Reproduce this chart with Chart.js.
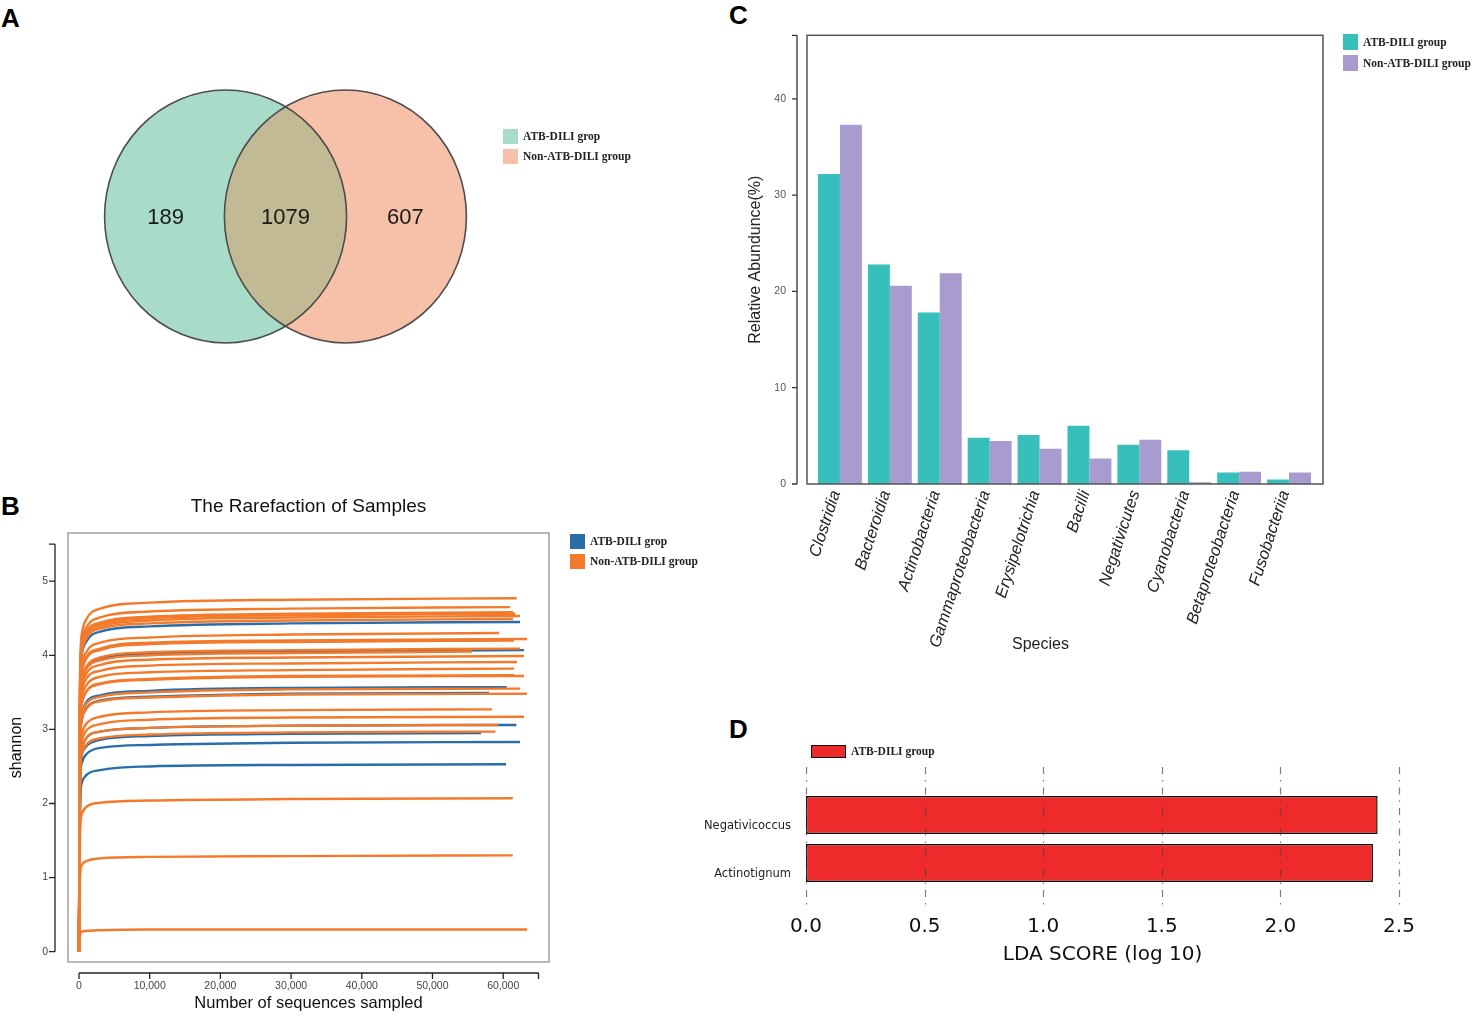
<!DOCTYPE html>
<html><head><meta charset="utf-8">
<script src="https://cdn.jsdelivr.net/npm/chart.js@4.4.1/dist/chart.umd.min.js"></script>
<style>
html,body{margin:0;padding:0;background:#fff;width:1476px;height:1017px;overflow:hidden;font-family:'Liberation Sans',Arial,sans-serif}
.pane{position:absolute}
.letter{position:absolute;font:bold 26px 'Liberation Sans',Arial,sans-serif;color:#000;line-height:26px}
.lg{position:absolute;font:bold 11.5px 'Liberation Serif','Times New Roman',serif;color:#222;white-space:nowrap;display:flex;align-items:center;height:16px}
.sw{display:inline-block;width:15px;height:15px;margin-right:5px;box-sizing:border-box}
.txt{position:absolute;white-space:nowrap;color:#222}
</style></head><body>

<div class="letter" style="left:1px;top:5px">A</div>
<div class="letter" style="left:1px;top:493px">B</div>
<div class="letter" style="left:729px;top:2px">C</div>
<div class="letter" style="left:729px;top:716px">D</div>

<div class="pane" style="left:0;top:0;width:700px;height:460px"><canvas id="venn"></canvas></div>
<div class="pane" style="left:0;top:470px;width:710px;height:547px"><canvas id="rare"></canvas></div>
<div class="pane" style="left:720px;top:0;width:756px;height:680px"><canvas id="abund"></canvas></div>
<div class="pane" style="left:690px;top:700px;width:786px;height:317px"><canvas id="lda"></canvas></div>

<div class="lg" style="left:503px;top:128px"><span class="sw" style="background:#a9dcc8"></span>ATB-DILI grop</div>
<div class="lg" style="left:503px;top:148px"><span class="sw" style="background:#f7c1a9"></span>Non-ATB-DILI group</div>

<div class="lg" style="left:570px;top:533px"><span class="sw" style="background:#2a6ea9"></span>ATB-DILI grop</div>
<div class="lg" style="left:570px;top:553px"><span class="sw" style="background:#f47a2b"></span>Non-ATB-DILI group</div>

<div class="lg" style="left:1343px;top:34px"><span class="sw" style="background:#36bfbb;height:16px"></span>ATB-DILI group</div>
<div class="lg" style="left:1343px;top:55px"><span class="sw" style="background:#a79bd0;height:16px"></span>Non-ATB-DILI group</div>

<div class="lg" style="left:811px;top:743px"><span class="sw" style="background:#ee2a2a;width:35px;height:13px;border:1.5px solid #111"></span>ATB-DILI group</div>

<div class="txt" style="left:1012px;top:635px;font-size:16px">Species</div>

<script>
// ---------- Panel A: Venn ----------
const vennLabels = ['ATB-DILI grop', 'Non-ATB-DILI group'];
const vennCenterX = [-0.495, 0.495];
const vennRadius = [1, 1];
const vennCounts = [189, 1079, 607];
const vennCountX = [-0.99, 0, 0.99];

// ---------- Panel B: rarefaction ----------
const rareDepths = [0, 150, 400, 1000, 3000, 10000, 30000]; // last point = rareEnd
const rareGroup = ['N','N','N','N','N','N','A','N','N','A','N','N','A','N','N','N','N','N','N','A','N','A','N','N','N','N','A','N','A','A','A','N','N','N'];
const rareEnd = [61900,60960,61400,61700,62380,61390,62380,59400,63370,61000,61530,62380,62940,55590,62940,61950,61530,61530,62940,60490,62380,57990,63370,58420,62940,59240,61870,58900,56870,62370,60400,61360,61360,63380];
const rareValues = [
  [0,3.72,4.29,4.48,4.63,4.71,4.75,4.77],
  [0,3.63,4.19,4.37,4.51,4.59,4.63,4.65],
  [0,3.57,4.12,4.31,4.44,4.52,4.56,4.58],
  [0,3.56,4.10,4.29,4.42,4.50,4.54,4.56],
  [0,3.53,4.08,4.26,4.39,4.47,4.51,4.53],
  [0,3.50,4.04,4.22,4.36,4.43,4.47,4.49],
  [0,3.47,4.01,4.18,4.32,4.39,4.43,4.45],
  [0,3.35,3.87,4.04,4.17,4.24,4.28,4.30],
  [0,3.29,3.80,3.97,4.09,4.17,4.20,4.22],
  [0,3.28,3.79,3.96,4.08,4.16,4.19,4.21],
  [0,3.28,3.78,3.95,4.07,4.15,4.18,4.20],
  [0,3.19,3.68,3.84,3.97,4.04,4.07,4.09],
  [0,3.17,3.66,3.83,3.95,4.02,4.05,4.07],
  [0,3.16,3.65,3.81,3.93,4.00,4.03,4.05],
  [0,3.11,3.59,3.75,3.87,3.94,3.97,3.99],
  [0,3.05,3.52,3.68,3.79,3.86,3.89,3.91],
  [0,2.98,3.44,3.59,3.71,3.77,3.80,3.82],
  [0,2.91,3.36,3.51,3.62,3.68,3.72,3.73],
  [0,2.90,3.35,3.50,3.61,3.67,3.71,3.72],
  [0,2.78,3.21,3.36,3.46,3.52,3.56,3.57],
  [0,2.77,3.20,3.34,3.44,3.50,3.54,3.55],
  [0,2.72,3.14,3.28,3.39,3.44,3.48,3.49],
  [0,2.71,3.13,3.27,3.38,3.43,3.47,3.48],
  [0,2.55,2.94,3.07,3.17,3.23,3.26,3.27],
  [0,2.47,2.85,2.98,3.07,3.13,3.16,3.17],
  [0,2.39,2.75,2.88,2.97,3.02,3.05,3.06],
  [0,2.39,2.75,2.88,2.97,3.02,3.05,3.06],
  [0,2.32,2.67,2.79,2.88,2.93,2.96,2.97],
  [0,2.30,2.66,2.77,2.86,2.91,2.94,2.95],
  [0,2.21,2.55,2.66,2.75,2.79,2.82,2.83],
  [0,1.97,2.28,2.38,2.45,2.50,2.52,2.53],
  [0,1.61,1.86,1.95,2.01,2.04,2.06,2.07],
  [0,1.01,1.17,1.22,1.26,1.28,1.29,1.30],
  [0,0.23,0.27,0.28,0.29,0.30,0.30,0.30]
];
const rareXTicks = [0, 10000, 20000, 30000, 40000, 50000, 60000];
const rareXAxisEnd = 65000;
const rareYTicks = [0, 1, 2, 3, 4, 5];
const rareYAxisEnd = 5.5;

// ---------- Panel C: relative abundance ----------
const speciesLabels = ['Clostridia','Bacteroidia','Actinobacteria','Gammaproteobacteria','Erysipelotrichia','Bacilli','Negativicutes','Cyanobacteria','Betaproteobacteria','Fusobacteriia'];
const atbAbundance = [32.2, 22.8, 17.8, 4.8, 5.1, 6.05, 4.08, 3.5, 1.2, 0.48];
const nonAtbAbundance = [37.3, 20.6, 21.9, 4.46, 3.66, 2.66, 4.6, 0.17, 1.28, 1.2];
const abundTicks = [0, 10, 20, 30, 40];
const abundMax = 46.6;

// ---------- Panel D: LDA ----------
const ldaTaxa = ['Negativicoccus', 'Actinotignum'];
const ldaScores = [2.41, 2.39];
const ldaTicks = [0, 0.5, 1, 1.5, 2, 2.5];

const SANS = "'Liberation Sans', Arial, sans-serif";
const DEJAVU = "'DejaVu Sans', sans-serif";
Chart.defaults.font.family = SANS;
Chart.defaults.animation = false;
Chart.defaults.plugins.tooltip.enabled = false;
Chart.defaults.plugins.legend.display = false;
Chart.defaults.responsive = true;
Chart.defaults.maintainAspectRatio = false;

// ===== A =====
const vennFills = ['#a9dcc8', '#f7c1a9'];
const vennOverlap = '#c2b995';
function ellipsePath(ctx, xs, ys, i) {
  const cx = xs.getPixelForValue(vennCenterX[i]);
  const cy = ys.getPixelForValue(0);
  const rx = xs.getPixelForValue(vennCenterX[i] + vennRadius[i]) - cx;
  const ry = cy - ys.getPixelForValue(vennRadius[i]);
  ctx.beginPath();
  ctx.ellipse(cx, cy, rx, ry, 0, 0, Math.PI * 2);
}
const vennPlugin = {
  id: 'venn',
  beforeDatasetsDraw(chart) {
    const {ctx, scales: {x, y}} = chart;
    ctx.save();
    vennLabels.forEach((_, i) => { ellipsePath(ctx, x, y, i); ctx.fillStyle = vennFills[i]; ctx.fill(); });
    ctx.save();
    ellipsePath(ctx, x, y, 0); ctx.clip();
    ellipsePath(ctx, x, y, 1); ctx.fillStyle = vennOverlap; ctx.fill();
    ctx.restore();
    ctx.strokeStyle = '#4d4d4d'; ctx.lineWidth = 1.6;
    vennLabels.forEach((_, i) => { ellipsePath(ctx, x, y, i); ctx.stroke(); });
    ctx.restore();
  },
  afterDatasetsDraw(chart) {
    const {ctx} = chart;
    const meta = chart.getDatasetMeta(0);
    ctx.save();
    ctx.fillStyle = '#1a1a1a';
    ctx.font = '22px ' + SANS;
    ctx.textAlign = 'center'; ctx.textBaseline = 'middle';
    meta.data.forEach((pt, i) => ctx.fillText(String(vennCounts[i]), pt.x, pt.y + 1));
    ctx.restore();
  }
};
new Chart(document.getElementById('venn'), {
  type: 'scatter',
  data: { datasets: [{ data: vennCountX.map(v => ({x: v, y: 0})), pointRadius: 0 }] },
  options: {
    layout: { padding: { left: 100, right: 229, top: 85, bottom: 112 } },
    scales: {
      x: { display: false, min: -1.533, max: 1.533 },
      y: { display: false, min: -1.04, max: 1.04 }
    }
  },
  plugins: [vennPlugin]
});

// ===== B =====
const rareColors = { A: '#2a6ea9', N: '#f47a2b' };
const rareAxes = {
  id: 'rareAxes',
  afterDraw(chart) {
    const {ctx, chartArea: a, scales: {x, y}} = chart;
    ctx.save();
    ctx.strokeStyle = '#9a9a9a'; ctx.lineWidth = 1.4;
    ctx.strokeRect(a.left, a.top, a.right - a.left, a.bottom - a.top);
    ctx.strokeStyle = '#222'; ctx.lineWidth = 1.3;
    const yx = a.left - 13;
    ctx.beginPath();
    ctx.moveTo(yx, y.getPixelForValue(0)); ctx.lineTo(yx, y.getPixelForValue(rareYAxisEnd));
    [...rareYTicks, rareYAxisEnd].forEach(v => { const p = y.getPixelForValue(v); ctx.moveTo(yx - 6, p); ctx.lineTo(yx, p); });
    const xy = a.bottom + 11;
    ctx.moveTo(x.getPixelForValue(0), xy); ctx.lineTo(x.getPixelForValue(rareXAxisEnd), xy);
    [...rareXTicks, rareXAxisEnd].forEach(v => { const p = x.getPixelForValue(v); ctx.moveTo(p, xy); ctx.lineTo(p, xy + 6); });
    ctx.stroke();
    ctx.restore();
  }
};
new Chart(document.getElementById('rare'), {
  type: 'line',
  data: {
    datasets: rareValues.map((vals, i) => ({
      label: rareGroup[i],
      data: vals.map((v, j) => ({ x: j < rareDepths.length ? rareDepths[j] : rareEnd[i], y: v })),
      borderColor: rareColors[rareGroup[i]],
      borderWidth: 2.4,
      pointRadius: 0,
      order: rareGroup[i] === 'A' ? 1 : 0,
      cubicInterpolationMode: 'monotone',
      fill: false
    }))
  },
  options: {
    layout: { padding: { left: 0, right: 161, top: 0, bottom: 0 } },
    plugins: {
      title: { display: true, fullSize: false, text: 'The Rarefaction of Samples', color: '#111', font: { size: 19, weight: 'normal', family: SANS }, padding: { top: 25, bottom: 15.2 } }
    },
    scales: {
      x: {
        type: 'linear', min: -1556, max: 66480,
        grid: { display: false, drawTicks: false }, border: { display: false },
        afterBuildTicks: s => { s.ticks = rareXTicks.map(v => ({ value: v })); },
        afterFit: s => { s.height = 55; },
        ticks: { padding: 18, color: '#444', font: { size: 10.5 }, callback: v => Number(v).toLocaleString('en-US') },
        title: { display: true, text: 'Number of sequences sampled', color: '#111', font: { size: 16.5 }, padding: { top: 0, bottom: 4 } }
      },
      y: {
        min: -0.139, max: 5.65,
        grid: { display: false, drawTicks: false }, border: { display: false },
        afterBuildTicks: s => { s.ticks = rareYTicks.map(v => ({ value: v })); },
        afterFit: s => { s.width = 68; },
        ticks: { padding: 20, color: '#444', font: { size: 10.5 } },
        title: { display: true, text: 'shannon', color: '#111', font: { size: 16 }, padding: { top: 7, bottom: 0 } }
      }
    }
  },
  plugins: [rareAxes]
});

// ===== C =====
const abundAxes = {
  id: 'abundAxes',
  afterDraw(chart) {
    const {ctx, chartArea: a, scales: {y}} = chart;
    ctx.save();
    ctx.strokeStyle = '#555'; ctx.lineWidth = 1.5;
    ctx.strokeRect(a.left - 8, a.top, a.right - a.left + 17, a.bottom - a.top);
    const ax = a.left - 18;
    ctx.strokeStyle = '#333'; ctx.lineWidth = 1.3;
    ctx.beginPath();
    ctx.moveTo(ax, a.bottom); ctx.lineTo(ax, a.top);
    [...abundTicks, abundMax].forEach(v => { const p = y.getPixelForValue(v); ctx.moveTo(ax - 5, p); ctx.lineTo(ax, p); });
    ctx.stroke();
    ctx.restore();
  }
};
new Chart(document.getElementById('abund'), {
  type: 'bar',
  data: {
    labels: speciesLabels,
    datasets: [
      { label: 'ATB-DILI group', data: atbAbundance, backgroundColor: '#36bfbb', categoryPercentage: 0.88, barPercentage: 1 },
      { label: 'Non-ATB-DILI group', data: nonAtbAbundance, backgroundColor: '#a79bd0', categoryPercentage: 0.88, barPercentage: 1 }
    ]
  },
  options: {
    layout: { padding: { left: 0, right: 162, top: 33, bottom: 0 } },
    scales: {
      x: {
        grid: { display: false, drawTicks: false }, border: { display: false },
        afterFit: s => { s.height = 196; },
        ticks: { autoSkip: false, minRotation: 72, maxRotation: 72, padding: 4, labelOffset: -4, color: '#222', font: { size: 16.5, style: 'italic' } }
      },
      y: {
        min: 0, max: abundMax,
        grid: { display: false, drawTicks: false }, border: { display: false },
        afterBuildTicks: s => { s.ticks = abundTicks.map(v => ({ value: v })); },
        afterFit: s => { s.width = 95; },
        ticks: { padding: 29, color: '#555', font: { size: 10.5 } },
        title: { display: true, text: 'Relative Abundunce(%)', color: '#222', font: { size: 16 }, padding: { top: 26, bottom: 0 } }
      }
    }
  },
  plugins: [abundAxes]
});

// ===== D =====
const ldaGrid = {
  id: 'ldaGrid',
  afterDatasetsDraw(chart) {
    const {ctx, chartArea: a, scales: {x}} = chart;
    ctx.save();
    ctx.strokeStyle = 'rgba(70,70,70,0.7)'; ctx.lineWidth = 1.2;
    ctx.setLineDash([7, 6, 1.5, 6]);
    ldaTicks.forEach(v => {
      const p = Math.round(x.getPixelForValue(v)) + 0.5;
      ctx.beginPath(); ctx.moveTo(p, a.top - 24); ctx.lineTo(p, a.bottom + 18); ctx.stroke();
    });
    ctx.restore();
  }
};
new Chart(document.getElementById('lda'), {
  type: 'bar',
  data: {
    labels: ldaTaxa,
    datasets: [{ label: 'ATB-DILI group', data: ldaScores, backgroundColor: '#ee2a2a', borderColor: '#111', borderWidth: 1.5, borderSkipped: false, barPercentage: 0.79, categoryPercentage: 1 }]
  },
  options: {
    indexAxis: 'y',
    layout: { padding: { left: 0, right: 77, top: 91, bottom: 0 } },
    scales: {
      x: {
        min: 0, max: 2.5,
        grid: { display: false, drawTicks: false }, border: { display: false },
        afterBuildTicks: s => { s.ticks = ldaTicks.map(v => ({ value: v })); },
        afterFit: s => { s.height = 130; },
        ticks: { padding: 28, color: '#111', font: { size: 20, family: DEJAVU }, callback: v => Number(v).toFixed(1) },
        title: { display: true, text: 'LDA SCORE (log 10)', color: '#111', font: { size: 20, family: DEJAVU }, padding: { top: 0, bottom: 50 } }
      },
      y: {
        grid: { display: false, drawTicks: false }, border: { display: false },
        afterFit: s => { s.width = 116; },
        ticks: { padding: 15, labelOffset: 11, color: '#222', font: { size: 11.5, family: DEJAVU } }
      }
    }
  },
  plugins: [ldaGrid]
});
</script>
</body></html>
